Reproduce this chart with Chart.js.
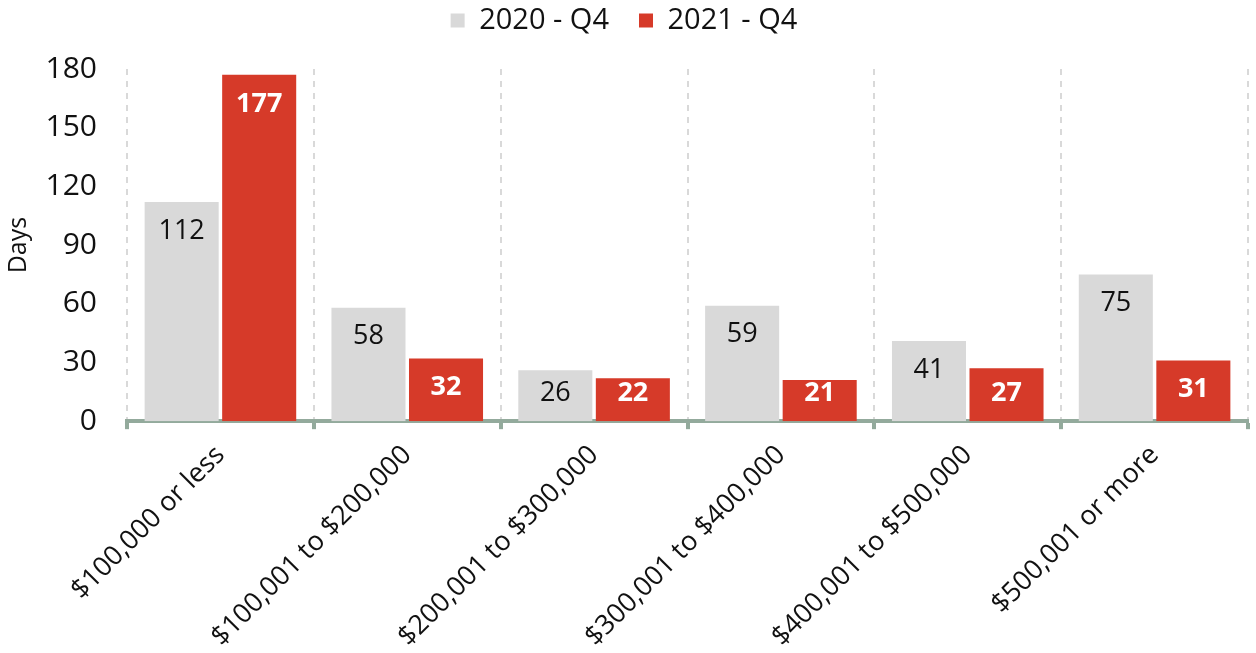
<!DOCTYPE html>
<html>
<head>
<meta charset="utf-8">
<script src="https://cdn.jsdelivr.net/npm/chart.js@4.4.0/dist/chart.umd.min.js"></script>
<style>
  html, body { margin: 0; padding: 0; background: #fff; }
  #wrap { width: 1256px; height: 653px; }
</style>
</head>
<body>
<div id="wrap"><canvas id="myBarChart"></canvas></div>
<script>
const categories = ['$100,000 or less', '$100,001 to $200,000', '$200,001 to $300,000', '$300,001 to $400,000', '$400,001 to $500,000', '$500,001 or more'];
const q4_2020 = [112, 58, 26, 59, 41, 75];
const q4_2021 = [177, 32, 22, 21, 27, 31];
const yTicks = [0, 30, 60, 90, 120, 150, 180];

// value labels inside the bars, near the top (kept off the axis for short bars)
const barLabels = {
    id: 'barLabels',
    afterDatasetsDraw(chart) {
        const ctx = chart.ctx;
        chart.data.datasets.forEach(function(ds, i) {
            const meta = chart.getDatasetMeta(i);
            meta.data.forEach(function(bar, j) {
                const y = Math.min(bar.y + 29, bar.base - 28);
                ctx.save();
                ctx.font = (i === 1 ? 'bold ' : '') + '27px "Open Sans"';
                ctx.fillStyle = i === 1 ? '#ffffff' : '#111111';
                ctx.textAlign = 'center';
                ctx.textBaseline = 'middle';
                ctx.fillText(ds.data[j], bar.x, y);
                ctx.restore();
            });
        });
    }
};

// extra room between the legend and the plot
const legendGap = {
    id: 'legendGap',
    afterInit(chart) {
        const fit = chart.legend.fit;
        chart.legend.fit = function() {
            fit.call(this);
            this.height += 24;
        };
    }
};

document.addEventListener('DOMContentLoaded', function() {
    const ctx = document.getElementById('myBarChart').getContext('2d');

    new Chart(ctx, {
        type: 'bar',
        data: {
            labels: categories,
            datasets: [
                {
                    label: '2020 - Q4',
                    data: q4_2020,
                    backgroundColor: '#d9d9d9',
                    categoryPercentage: 0.83,
                    barPercentage: 0.955
                },
                {
                    label: '2021 - Q4',
                    data: q4_2021,
                    backgroundColor: '#d63a29',
                    categoryPercentage: 0.83,
                    barPercentage: 0.955
                }
            ]
        },
        options: {
            responsive: true,
            maintainAspectRatio: false,
            animation: false,
            layout: { padding: { right: 8, top: -24 } },
            plugins: {
                legend: {
                    position: 'top',
                    labels: {
                        boxWidth: 14,
                        boxHeight: 14,
                        padding: 30,
                        color: '#111',
                        font: { family: 'Open Sans', size: 29 }
                    }
                },
                tooltip: { enabled: false }
            },
            scales: {
                x: {
                    afterFit: function(axis) {
                        axis.height = axis.height - 10;
                    },
                    grid: {
                        color: '#d9d9d9',
                        lineWidth: 2,
                        tickColor: '#93aa9c',
                        tickWidth: 4,
                        tickLength: 8,
                        tickBorderDash: [],
                        drawTicks: true
                    },
                    border: { color: '#93aa9c', width: 4, dash: [6, 6] },
                    ticks: {
                        maxRotation: 45,
                        minRotation: 45,
                        padding: 10,
                        color: '#111',
                        font: { family: 'Open Sans', size: 27 }
                    }
                },
                y: {
                    min: 0,
                    max: 180,
                    afterBuildTicks: function(axis) {
                        axis.ticks = yTicks.map(function(v) { return { value: v }; });
                    },
                    afterFit: function(axis) {
                        axis.width = 127;
                    },
                    grid: { display: false, drawTicks: false },
                    border: { display: false },
                    ticks: {
                        padding: 30,
                        color: '#111',
                        font: { family: 'Open Sans', size: 30 }
                    },
                    title: {
                        display: true,
                        text: 'Days',
                        color: '#111',
                        font: { family: 'Open Sans', size: 25 }
                    }
                }
            }
        },
        plugins: [barLabels, legendGap]
    });
});
</script>
</body>
</html>
